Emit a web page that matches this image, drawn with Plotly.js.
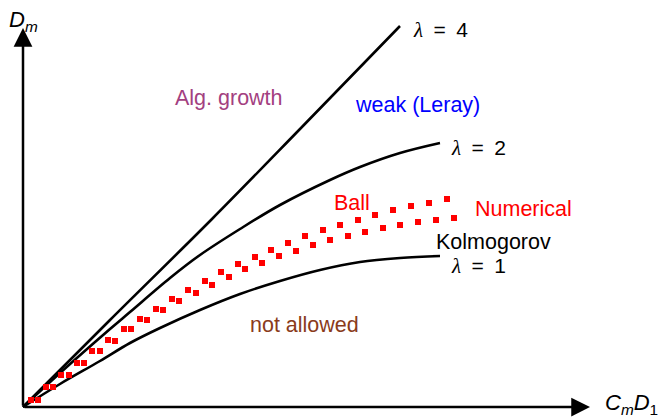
<!DOCTYPE html>
<html>
<head>
<meta charset="utf-8">
<script src="https://cdn.plot.ly/plotly-3.0.1.min.js"></script>
<style>
  html, body { margin: 0; padding: 0; background: #ffffff; }
  #chart { width: 668px; height: 417px; }
</style>
</head>
<body>
<div id="chart"></div>
<script>
// Regime diagram: D_m against C_m D_1, with the lambda curves and numerical points.

// Upper row of numerical points ("Ball")
const ballX = [0.08, 0.23, 0.38, 0.54, 0.69, 0.85, 1.01, 1.17, 1.33, 1.49, 1.65, 1.82, 1.98,
               2.15, 2.32, 2.48, 2.65, 2.82, 3.00, 3.17, 3.35, 3.52, 3.70, 3.88, 4.06, 4.24];
const ballY = [0.07, 0.20, 0.32, 0.44, 0.56, 0.67, 0.78, 0.88, 0.98, 1.08, 1.17, 1.26, 1.35,
               1.43, 1.50, 1.57, 1.64, 1.71, 1.77, 1.82, 1.87, 1.92, 1.97, 2.01, 2.04, 2.08];

// Lower row of numerical points
const numX = [0.15, 0.30, 0.46, 0.61, 0.77, 0.92, 1.08, 1.24, 1.40, 1.56, 1.73, 1.89, 2.06,
              2.22, 2.39, 2.56, 2.73, 2.90, 3.07, 3.25, 3.42, 3.60, 3.77, 3.95, 4.13, 4.31];
const numY = [0.07, 0.20, 0.32, 0.44, 0.56, 0.66, 0.78, 0.87, 0.97, 1.06, 1.14, 1.22, 1.30,
              1.38, 1.44, 1.51, 1.56, 1.62, 1.67, 1.71, 1.75, 1.79, 1.82, 1.85, 1.87, 1.89];

// lambda = 1 curve
const lam1X = [0, 0.37, 0.77, 1.07, 1.37, 1.77, 2.17, 2.57, 2.97, 3.37, 3.77, 4.17];
const lam1Y = [0, 0.23, 0.46, 0.64, 0.79, 0.97, 1.13, 1.26, 1.37, 1.45, 1.49, 1.51];

// lambda = 2 curve
const lam2X = [0, 0.37, 0.87, 1.07, 1.47, 1.77, 2.17, 2.57, 3.07, 3.37, 3.77, 4.17];
const lam2Y = [0, 0.34, 0.78, 0.95, 1.29, 1.52, 1.78, 2.02, 2.27, 2.40, 2.54, 2.64];

// lambda = 4 curve
const lam4X = [0, 0.87, 1.89, 2.77, 3.77];
const lam4Y = [0, 0.87, 1.88, 2.78, 3.81];

// Axis ends (arrow tips)
const xAxisEnd = 5.67;
const yAxisEnd = 3.79;

const curveLine = { color: '#000000', width: 2.6, shape: 'spline' };

const traces = [
  { x: lam4X, y: lam4Y, mode: 'lines', line: curveLine, name: 'λ = 4' },
  { x: lam2X, y: lam2Y, mode: 'lines', line: curveLine, name: 'λ = 2' },
  { x: lam1X, y: lam1Y, mode: 'lines', line: curveLine, name: 'λ = 1' },
  { x: ballX, y: ballY, mode: 'markers', name: 'Ball',
    marker: { symbol: 'square', size: 6, color: '#ff0000' } },
  { x: numX, y: numY, mode: 'markers', name: 'Numerical',
    marker: { symbol: 'square', size: 6, color: '#ff0000' } }
];

const FONT = 'Liberation Sans, Arial, Helvetica, sans-serif';

function label(text, x, y, color, size, extra) {
  return Object.assign({
    text: text, x: x, y: y, xref: 'x', yref: 'y', showarrow: false,
    font: { family: FONT, size: size || 21.5, color: color || '#000000' },
    xanchor: 'center', yanchor: 'middle'
  }, extra || {});
}

function arrow(x, y) {
  return {
    text: '', x: x, y: y, ax: 0, ay: 0, xref: 'x', yref: 'y', axref: 'x', ayref: 'y',
    showarrow: true, arrowhead: 2, arrowsize: 1.5, arrowwidth: 2.5, arrowcolor: '#000000',
    standoff: 0, startstandoff: 0
  };
}

const lam = '<span style="font-family:Liberation Serif, serif"><i>λ</i></span>\u2002=\u2002';

const annotations = [
  arrow(xAxisEnd, 0),
  arrow(0, yAxisEnd),
  label('<i>D</i><sub><i>m</i></sub>', -0.16, 3.86, '#000000', 22, { xanchor: 'left' }),
  label('<i>C</i><sub><i>m</i></sub><i>D</i><sub>1</sub>', 5.80, 0.03, '#000000', 22, { xanchor: 'left' }),
  label(lam + '4', 4.17, 3.77, '#000000', 21),
  label(lam + '2', 4.55, 2.59, '#000000', 21),
  label(lam + '1', 4.55, 1.41, '#000000', 21),
  label('Alg. growth', 2.06, 3.09, '#a3407f'),
  label('weak (Leray)', 3.94, 3.02, '#0000ff'),
  label('Ball', 3.29, 2.04, '#ff0000'),
  label('Numerical', 5.00, 1.98, '#ff0000'),
  label('Kolmogorov', 4.70, 1.65, '#000000'),
  label('not allowed', 2.81, 0.82, '#8a3b1b')
];

const layout = {
  width: 668, height: 417,
  margin: { l: 0, r: 0, t: 0, b: 0 },
  paper_bgcolor: '#ffffff', plot_bgcolor: '#ffffff',
  showlegend: false,
  xaxis: { range: [-0.23, 6.45], visible: false, fixedrange: true },
  yaxis: { range: [-0.10, 4.07], visible: false, fixedrange: true },
  annotations: annotations
};

Plotly.newPlot('chart', traces, layout, { staticPlot: true, displayModeBar: false });
</script>
</body>
</html>
